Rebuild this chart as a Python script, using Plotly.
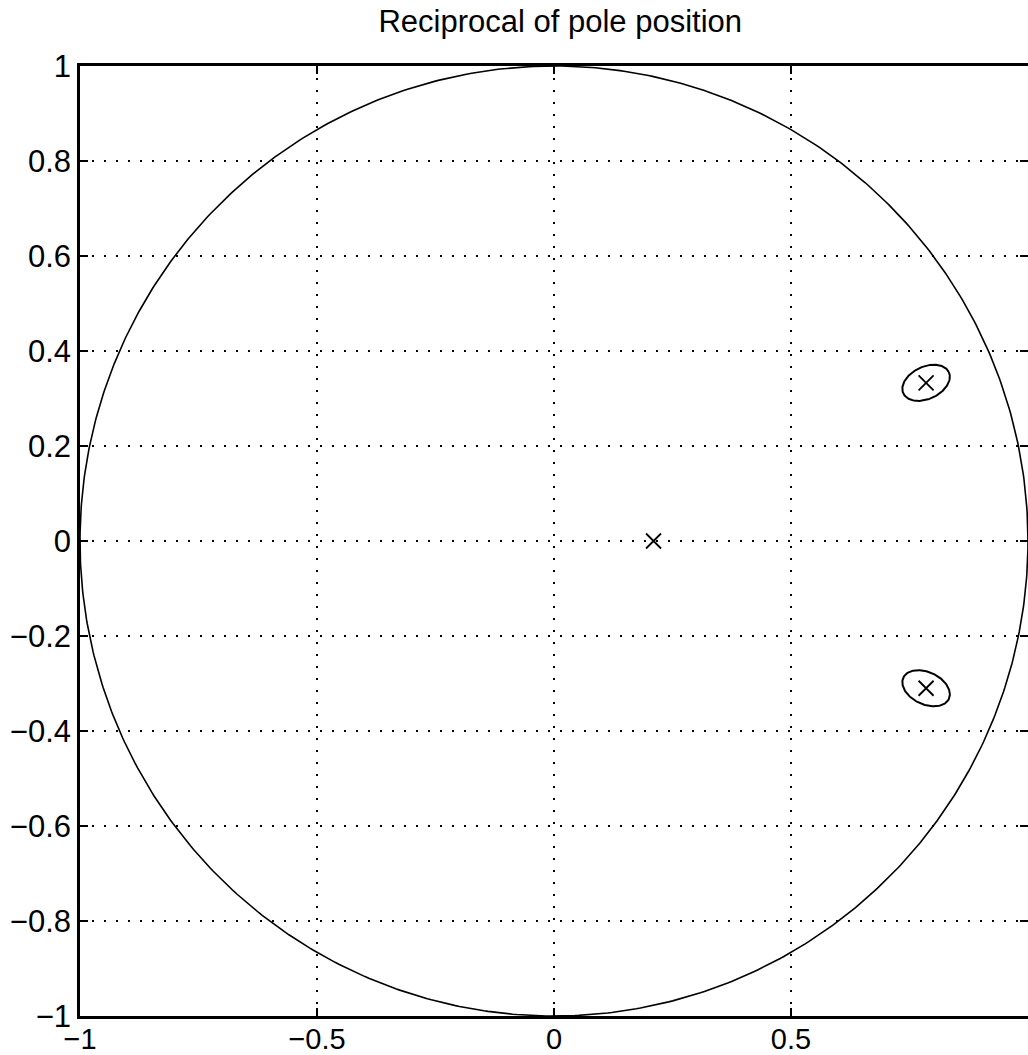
import numpy as np
import plotly.graph_objects as go

# Data
pole_re = [0.21, 0.785, 0.785]
pole_im = [0.0, 0.333, -0.31]
circled = [1, 2]                 # indices of circled poles
ellipse_rx = [0.053, 0.053]
ellipse_ry = [0.034, 0.034]
ellipse_tilt_deg = [25, -25]

x_ticks = [-1, -0.5, 0, 0.5, 1]
x_tick_text = ["\u22121", "\u22120.5", "0", "0.5", "1"]
y_ticks = [-1, -0.8, -0.6, -0.4, -0.2, 0, 0.2, 0.4, 0.6, 0.8, 1]
y_tick_text = ["\u22121", "\u22120.8", "\u22120.6", "\u22120.4", "\u22120.2", "0",
               "0.2", "0.4", "0.6", "0.8", "1"]

FONT = "Liberation Sans, Arial, Helvetica, sans-serif"

fig = go.Figure()

# Unit circle
th = np.linspace(0, 2 * np.pi, 721)
fig.add_trace(go.Scatter(x=np.cos(th), y=np.sin(th), mode="lines",
                         line=dict(color="black", width=1.6),
                         hoverinfo="skip", showlegend=False))

# Ellipses around circled poles
t = np.linspace(0, 2 * np.pi, 181)
for k, idx in enumerate(circled):
    a = np.deg2rad(ellipse_tilt_deg[k])
    ex = ellipse_rx[k] * np.cos(t)
    ey = ellipse_ry[k] * np.sin(t)
    xr = pole_re[idx] + ex * np.cos(a) - ey * np.sin(a)
    yr = pole_im[idx] + ex * np.sin(a) + ey * np.cos(a)
    fig.add_trace(go.Scatter(x=xr, y=yr, mode="lines",
                             line=dict(color="black", width=2),
                             hoverinfo="skip", showlegend=False))

# Poles
fig.add_trace(go.Scatter(x=pole_re, y=pole_im, mode="markers",
                         marker=dict(symbol="x-thin", size=15,
                                     line=dict(color="black", width=1.8)),
                         showlegend=False))

axis_common = dict(
    showgrid=True, gridcolor="black", griddash="2px,10px", gridwidth=1.5,
    zeroline=False, showline=True, linecolor="black", linewidth=2.5,
    mirror="ticks", ticks="inside", ticklen=8, tickcolor="black", tickwidth=1.5,
    automargin=False,
)

fig.update_layout(
    width=1028, height=1055,
    margin=dict(l=80, r=0, t=66, b=39),
    paper_bgcolor="white", plot_bgcolor="white",
    title=dict(text="Reciprocal of pole position", x=0.545, xanchor="center",
               y=0.99, yanchor="top",
               font=dict(family=FONT, size=31, color="black")),
    xaxis=dict(range=[-1, 1], tickvals=x_ticks, ticktext=x_tick_text,
               ticklabelstandoff=-5,
               tickfont=dict(family=FONT, size=29, color="black"), **axis_common),
    yaxis=dict(range=[-1, 1], tickvals=y_ticks, ticktext=y_tick_text,
               ticklabelstandoff=0,
               tickfont=dict(family=FONT, size=31, color="black"), **axis_common),
)

fig.write_html("out.html", config={"displayModeBar": False},
               post_script="document.body.style.margin='0';document.body.style.overflow='hidden';")
